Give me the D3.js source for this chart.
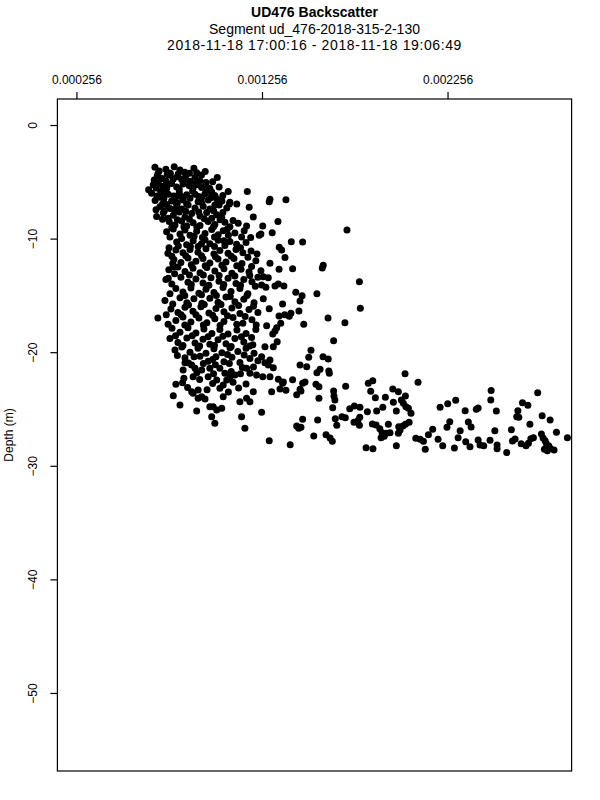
<!DOCTYPE html>
<html>
<head>
<meta charset="utf-8">
<script src="https://cdn.jsdelivr.net/npm/d3@7"></script>
<style>
  body { margin: 0; background: #fff; }
  svg text { font-family: "Liberation Sans", Arial, Helvetica, sans-serif; fill: #000; }
</style>
</head>
<body>
<div id="chart"></div>
<script>
//------------------------------------------ Data ------------------------------------------//
// each ping: [backscatter in units of 1e-4, depth (m)]
const BS_UNIT = 1e-4;

const titleLines = ['UD476 Backscatter', 'Segment ud_476-2018-315-2-130', '2018-11-18 17:00:16 - 2018-11-18 19:06:49'];
const xTicks = [0.000256, 0.001256, 0.002256];
const yTicks = [0, -10, -20, -30, -40, -50];
const yLabel = 'Depth (m)';

const shallowPings = [
  [6.79,-3.72],[7.02,-4.05],[7.38,-3.90],[7.83,-3.68],[8.14,-3.95],[8.89,-3.80],[9.04,-4.20],[9.50,-4.10],[7.62,-4.25],[8.40,-4.15],
  [6.91,-4.50],[7.60,-4.42],[7.78,-4.75],[7.99,-4.55],[8.23,-4.80],[8.95,-4.62],[9.22,-4.90],[10.15,-4.62],[7.17,-4.70],[8.45,-4.45],[8.68,-4.95],[9.54,-5.05],
  [6.70,-5.25],[6.97,-5.05],[7.20,-5.40],[7.69,-5.15],[7.96,-5.45],[8.31,-5.20],[8.64,-5.35],[9.31,-5.50],[9.54,-5.30],[9.75,-5.60],[7.42,-5.60],[9.00,-5.15],
  [6.61,-6.00],[7.10,-5.85],[7.51,-6.10],[8.10,-5.95],[8.50,-6.15],[8.82,-5.80],[9.49,-6.05],[9.85,-5.90],[10.02,-6.20],[10.74,-5.85],[11.77,-5.85],[6.45,-5.70],[7.80,-6.25],[9.15,-6.30],
  [7.27,-6.50],[7.69,-6.70],[7.87,-6.40],[8.31,-6.60],[8.68,-6.45],[9.12,-6.75],[9.31,-6.35],[9.66,-6.60],[10.12,-6.50],[10.83,-6.80],[6.80,-6.65],[7.06,-6.35],[8.00,-6.85],[10.40,-6.70],
  [7.06,-7.20],[7.42,-7.00],[7.60,-7.35],[7.96,-7.10],[8.23,-7.40],[8.58,-7.05],[8.95,-7.30],[9.39,-7.15],[9.75,-7.40],[10.02,-7.05],[10.66,-7.30],[10.80,-6.95],[11.87,-7.25],[6.85,-7.45],
  [6.88,-8.05],[7.24,-7.75],[7.78,-7.95],[8.10,-7.65],[8.41,-8.10],[8.77,-7.80],[9.22,-8.00],[9.58,-7.70],[10.12,-7.90],[10.39,-8.15],[12.09,-8.10],[7.50,-8.20],[9.85,-8.20],
  [7.56,-8.50],[7.87,-8.80],[8.23,-8.45],[8.50,-8.90],[8.85,-8.60],[9.22,-8.85],[9.66,-8.50],[10.02,-8.75],[10.56,-8.55],[10.83,-8.95],[11.28,-8.65],[11.73,-8.90],
  [7.42,-9.40],[7.78,-9.15],[8.14,-9.60],[8.41,-9.25],[8.68,-9.70],[9.04,-9.35],[9.49,-9.55],[9.85,-9.20],[10.20,-9.65],[10.47,-9.30],[11.10,-9.50],[11.46,-9.85],[12.41,-9.70],
  [7.96,-10.30],[8.23,-10.00],[8.50,-10.55],[8.85,-10.20],[9.12,-10.70],[9.49,-10.10],[9.75,-10.45],[10.20,-10.15],[10.56,-10.60],[10.83,-10.25],[11.19,-10.50],[11.70,-10.35],[7.55,-10.80]
];

const shallowInfill = [
  [6.95,-4.30],[7.45,-4.35],[8.05,-4.30],[8.65,-4.25],[9.30,-4.40],
  [6.75,-4.85],[7.40,-4.95],[8.45,-4.85],[9.10,-5.25],[9.90,-5.00],
  [6.85,-5.55],[7.45,-5.35],[8.10,-5.65],[8.85,-5.55],[9.60,-5.85],[10.25,-5.45],
  [6.90,-6.25],[7.30,-6.05],[8.20,-6.30],[8.95,-6.10],[9.80,-6.40],[10.45,-6.20],
  [7.20,-6.95],[7.90,-6.75],[8.50,-6.95],[9.30,-6.80],[10.25,-7.05],[11.20,-6.95],
  [7.30,-7.55],[7.85,-7.45],[8.45,-7.60],[9.15,-7.65],[9.95,-7.55],[10.45,-7.70],
  [7.20,-8.30],[8.00,-8.35],[8.65,-8.30],[9.45,-8.25],[10.30,-8.35],[11.00,-8.40],
  [7.70,-9.00],[8.35,-8.95],[9.05,-9.00],[9.95,-8.95],[10.70,-9.15],[11.60,-9.30],
  [7.60,-9.85],[8.90,-9.80],[9.35,-9.90],[10.00,-9.85],[10.75,-9.70],[11.95,-9.90],
  [8.05,-10.65],[8.70,-10.70],[9.30,-10.45],[10.00,-10.70],[10.50,-10.20],[11.40,-10.80]
];

const shallowEdge = [
  [13.85,-6.58],[12.99,-6.54],[12.95,-6.75],[13.42,-8.50],[12.60,-8.89],[12.50,-9.60],[13.11,-9.48],[17.14,-9.24],
  [14.14,-10.27],[14.75,-10.29],[13.49,-10.77],[13.62,-11.00]
];

const midPings = [
  [7.49,-11.30],[7.92,-11.00],[8.30,-11.25],[8.68,-10.95],[9.11,-11.20],[9.54,-10.90],[9.97,-11.35],[10.29,-11.05],[10.73,-11.30],[11.16,-10.95],[11.53,-11.25],[11.97,-11.10],[12.29,-11.35],
  [7.81,-11.85],[8.19,-12.10],[8.57,-11.70],[9.00,-12.00],[9.38,-11.75],[9.75,-12.15],[10.19,-11.80],[10.62,-12.05],[11.05,-11.75],[11.48,-12.20],[12.23,-11.95],
  [7.54,-12.75],[8.03,-12.50],[8.41,-12.90],[8.84,-12.60],[9.22,-13.00],[9.59,-12.55],[10.02,-12.85],[10.51,-12.65],[10.94,-13.05],[11.43,-12.70],[11.86,-12.95],
  [7.38,-13.60],[8.19,-13.40],[8.57,-13.85],[9.00,-13.55],[9.38,-13.90],[9.81,-13.45],[10.24,-13.75],[10.73,-13.50],[11.16,-13.95],[11.58,-13.60],[12.02,-13.80],[12.34,-13.40],
  [7.92,-14.40],[8.30,-14.70],[8.73,-14.35],[9.16,-14.80],[9.54,-14.45],[9.97,-14.75],[10.46,-14.30],[10.89,-14.65],[11.37,-14.40],[11.80,-14.85],
  [7.33,-15.45],[8.14,-15.20],[8.51,-15.65],[8.89,-15.30],[9.32,-15.70],[9.75,-15.25],[10.19,-15.60],[10.62,-15.15],[11.10,-15.55],[11.58,-15.35],[12.13,-15.65],
  [7.65,-16.20],[8.03,-16.50],[8.41,-16.05],[8.84,-16.40],[9.27,-16.00],[9.70,-16.55],[10.08,-16.15],[10.51,-16.45],[10.94,-16.10],[11.37,-16.60],[11.86,-16.25],[12.34,-16.50],
  [6.95,-17.00],[7.92,-17.20],[8.30,-16.90],[8.73,-17.35],[9.16,-17.00],[9.59,-17.40],[10.02,-17.05],[10.51,-17.30],[11.00,-16.95],[11.53,-17.45],[12.02,-17.15],
  [7.71,-17.90],[8.14,-18.25],[8.57,-17.85],[9.00,-18.30],[9.43,-17.95],[9.86,-18.35],[10.29,-18.00],[10.73,-18.40],[11.21,-18.05],[11.70,-18.35],[12.23,-18.00],
  [7.60,-18.80],[8.03,-19.15],[8.51,-18.75],[8.95,-19.20],[9.38,-18.85],[9.75,-19.30],[10.19,-18.90],[10.62,-19.25],[11.10,-18.80],[11.58,-19.10],[12.07,-19.35],
  [7.78,-12.47],[7.51,-13.50]
];

const midInfill = [
  [7.70,-11.55],[8.45,-11.50],[9.30,-11.50],[10.05,-11.60],[10.90,-11.55],[11.80,-11.65],
  [7.75,-12.20],[8.75,-12.30],[9.50,-12.40],[10.40,-12.35],[11.20,-12.40],[12.00,-12.45],
  [7.85,-13.10],[8.65,-13.20],[9.40,-13.20],[10.25,-13.25],[11.10,-13.30],[11.90,-13.25],
  [7.70,-14.00],[8.75,-14.05],[9.70,-14.10],[10.50,-14.05],[11.40,-14.10],[12.20,-14.20],
  [7.60,-14.85],[8.40,-15.00],[9.30,-14.95],[10.10,-15.00],[10.85,-15.10],[11.75,-15.00],
  [7.75,-15.75],[8.60,-15.85],[9.45,-15.80],[10.35,-15.80],[11.30,-15.90],[12.10,-15.95],
  [7.40,-16.70],[8.20,-16.70],[9.00,-16.70],[9.90,-16.75],[10.70,-16.80],[11.65,-16.85],
  [7.50,-17.55],[8.40,-17.60],[9.40,-17.60],[10.30,-17.65],[11.20,-17.55],[12.25,-17.60],
  [7.90,-18.55],[8.80,-18.55],[9.65,-18.65],[10.45,-18.60],[11.45,-18.65],[12.00,-18.70],
  [8.30,-19.40],[9.20,-19.45],[10.00,-19.40],[10.90,-19.50],[11.90,-19.45]
];

const midEdge = [
  [13.80,-11.67],[14.21,-12.65],[15.86,-12.35],[15.81,-12.59],[17.81,-13.79],[13.74,-14.17],[14.38,-14.73],[14.72,-15.03],[14.61,-15.49],[15.52,-14.85],
  [13.67,-15.76],[17.86,-16.14],[13.78,-16.70],[14.03,-16.84],[14.12,-16.58],[14.55,-16.37],[16.12,-16.99],[17.03,-17.40],[14.81,-17.54],[16.42,-18.99],
  [12.99,-12.17],[13.48,-12.70],[12.50,-12.83],[12.63,-13.35],[12.90,-13.44],[12.54,-14.08],[12.77,-14.29],[13.26,-14.17],[13.44,-14.00],[12.63,-15.29],
  [12.95,-16.17],[13.48,-16.81],[12.81,-17.67],[13.35,-17.84],[13.57,-17.45],[13.14,-18.40],[13.26,-18.13],[12.72,-19.52],[13.17,-19.52],[13.38,-19.08]
];

const deepPings = [
  [7.87,-19.80],[8.24,-19.55],[8.68,-20.00],[9.11,-19.65],[9.54,-20.10],[9.97,-19.70],[10.40,-20.05],[10.83,-19.60],[11.26,-19.95],[11.70,-19.65],[12.13,-20.10],
  [8.41,-20.50],[9.22,-20.35],[9.66,-20.80],[10.08,-20.40],[10.51,-20.85],[10.94,-20.45],[11.37,-20.90],[11.91,-20.55],[12.34,-20.75],
  [8.31,-21.57],[8.77,-21.13],[8.95,-21.42],[9.31,-21.57],[9.75,-21.42],[8.85,-22.16],[7.92,-22.83],[8.28,-22.69],[7.78,-23.83],[8.14,-24.65],
  [8.85,-23.62],[9.12,-24.06],[9.31,-23.92],[9.49,-24.12],[9.75,-24.80],[9.93,-24.80],[10.39,-24.94],[9.85,-25.68],[10.02,-26.26],[9.04,-25.18],
  [10.47,-23.92],[11.46,-25.68],[11.64,-26.70],[11.73,-24.06],[12.09,-23.48],[11.91,-24.36],[10.29,-23.18],[10.47,-22.89],[10.83,-22.16],[11.10,-22.01],
  [11.73,-21.42],[11.91,-21.86],[12.27,-22.01],[10.12,-22.45],[10.66,-22.45],[9.66,-22.16],[10.29,-21.42],[10.56,-21.86],[8.77,-23.48],[9.12,-23.33],
  [11.37,-24.36],[10.12,-25.09],[8.41,-20.92]
];

const deepInfill = [
  [8.00,-20.30],[8.90,-20.40],[9.90,-20.65],[10.70,-20.20],[11.60,-20.25],
  [8.60,-20.95],[9.40,-21.00],[10.05,-21.10],[10.80,-21.00],[11.50,-21.35],[12.10,-21.30],
  [9.05,-21.80],[9.95,-21.90],[10.90,-21.70],[11.40,-21.90],
  [8.35,-22.30],[9.20,-22.40],[9.90,-22.75],[11.00,-22.65],[11.70,-22.80],
  [8.55,-23.10],[9.60,-23.30],[10.75,-23.50],[11.30,-23.15]
];

const deepEdge = [
  [15.20,-19.83],[15.08,-20.45],[15.85,-20.40],[16.13,-20.60],[14.61,-21.13],[14.97,-21.28],[15.69,-21.50],[15.52,-21.80],[16.16,-21.65],[16.19,-21.86],
  [14.21,-22.42],[13.71,-22.62],[14.88,-22.62],[14.75,-22.74],[15.47,-22.82],[15.63,-23.04],[13.85,-23.35],[14.61,-23.27],[14.66,-23.42],[14.43,-23.74],
  [16.42,-23.42],[16.44,-23.86],[16.49,-24.21],[15.63,-24.06],[16.37,-24.89],[14.75,-25.91],[15.56,-25.97],[16.51,-25.85],[16.59,-26.43],[16.87,-25.68],
  [17.05,-25.77],[14.43,-26.50],[14.54,-26.70],[14.66,-26.61],[15.35,-27.38],[16.01,-27.26],[16.23,-27.55],[16.35,-27.84],[14.08,-28.14],[17.07,-23.00],
  [12.54,-20.40],[12.72,-20.92],[12.99,-20.69],[12.90,-21.13],[13.17,-21.36],[12.60,-22.16],[12.99,-22.16],[13.44,-22.39],[13.67,-22.74],[13.08,-23.48],
  [13.53,-23.24],[12.54,-25.29],[12.95,-27.79]
];

const shelfPings = [
  [20.27,-21.89],[20.97,-22.65],[18.29,-22.74],[18.53,-22.51],[18.42,-23.44],[19.61,-23.24],[19.91,-23.48],[20.29,-23.86],[20.07,-24.21],[20.18,-24.50],
  [20.32,-24.80],[20.45,-24.94],[18.67,-24.01],[19.21,-23.97],[19.64,-24.41],[17.29,-24.97],[17.54,-24.74],[17.84,-24.85],[19.07,-24.85],[19.80,-25.18],
  [20.59,-25.38],[18.24,-25.24],[18.74,-25.18],[17.83,-25.73],[17.72,-26.03],[17.52,-26.17],[17.81,-26.43],[18.51,-26.32],[18.71,-26.41],[18.91,-26.73],
  [19.03,-27.09],[19.15,-27.40],[18.98,-27.53],[19.25,-27.14],[19.46,-27.09],[19.37,-26.35],[19.93,-26.56],[20.15,-26.50],[20.29,-26.35],[20.49,-26.17],
  [18.17,-28.41],[18.54,-28.50],[19.80,-28.23],[19.91,-27.14],[20.00,-26.85]
];

const farPings = [
  [24.91,-23.38],[24.89,-24.21],[22.16,-24.85],[22.57,-24.53],[23.00,-24.23],[23.51,-25.15],[24.11,-25.03],[24.21,-24.91],[25.19,-25.18],[27.42,-23.57],
  [26.60,-24.45],[26.89,-24.67],[26.35,-25.15],[26.29,-25.68],[26.40,-25.73],[27.66,-25.59],[28.09,-25.97],
  [20.85,-27.58],[21.08,-27.67],[21.26,-27.84],[21.36,-28.54],[21.76,-26.79],[21.53,-27.26],[22.05,-27.67],[22.30,-28.23],[22.53,-26.61],
  [22.68,-26.12],[23.24,-26.91],[23.13,-27.53],[22.93,-28.43],[23.54,-27.88],[23.68,-26.14],[23.83,-26.58],[23.77,-28.32],[24.21,-27.73],[24.31,-28.17],
  [24.51,-28.23],[24.85,-27.76],[25.11,-26.91],[25.23,-28.17],[25.23,-28.50],[25.75,-28.84],[26.00,-26.82],[26.20,-27.64],[26.06,-27.82],[26.53,-28.05],
  [26.79,-28.23],[26.92,-28.02],[27.05,-27.61],[27.19,-27.53],[27.00,-26.35],[27.62,-27.20],[27.71,-27.55],[27.82,-27.79],[27.89,-28.05],[28.02,-28.26],
  [28.09,-28.46],[27.78,-28.55],[28.30,-28.61],[27.94,-28.67],[28.43,-27.05],[29.02,-27.53]
];

//------------------------------------------ Canvas ------------------------------------------//
let w = 600,
  h = 800;
let plot = {left: 57.4, right: 571.6, top: 99, bottom: 771};

let pings = [].concat(shallowPings, shallowInfill, shallowEdge, midPings, midInfill, midEdge,
  deepPings, deepInfill, deepEdge, shelfPings, farPings)
  .map(d => ({bs: d[0] * BS_UNIT, depth: d[1]}));

// R style limits: data range padded by 4% on each side
let xRange = [0.000256, 0.002822];
let xPad = (xRange[1] - xRange[0]) * 0.04;
let xScale = d3.scaleLinear().domain([xRange[0] - xPad, xRange[1] + xPad]).range([plot.left, plot.right]);
let yScale = d3.scaleLinear().domain([-56.87, 2.29]).range([plot.bottom, plot.top]);

let svg = d3.select('#chart').append('svg')
  .attr('width', w)
  .attr('height', h);

svg.append('clipPath').attr('id', 'plot-clip')
  .append('rect')
  .attr('x', plot.left).attr('y', plot.top)
  .attr('width', plot.right - plot.left).attr('height', plot.bottom - plot.top);

// points
svg.append('g')
  .attr('clip-path', 'url(#plot-clip)')
  .selectAll('circle')
  .data(pings)
  .enter()
  .append('circle')
  .attr('cx', d => xScale(d.bs))
  .attr('cy', d => yScale(d.depth))
  .attr('r', 3.5)
  .style('fill', '#000');

// box
svg.append('rect')
  .attr('x', plot.left).attr('y', plot.top)
  .attr('width', plot.right - plot.left).attr('height', plot.bottom - plot.top)
  .style('fill', 'none').style('stroke', '#000').style('stroke-width', 1.2);

// top axis
let xAxis = d3.axisTop(xScale).tickValues(xTicks).tickSize(7).tickPadding(8)
  .tickFormat(d => d.toFixed(6));
let gx = svg.append('g')
  .attr('transform', 'translate(0,' + plot.top + ')')
  .call(xAxis);
gx.select('.domain').remove();
gx.selectAll('line').style('stroke', '#000').style('stroke-width', 1.2);
gx.selectAll('text').style('font-size', '12px').style('font-family', '"Liberation Sans", Arial, sans-serif');

// left axis, rotated labels
let yAxis = d3.axisLeft(yScale).tickValues(yTicks).tickSize(7)
  .tickFormat(d => (d < 0 ? '\u2212' + Math.abs(d) : String(d)));
let gy = svg.append('g')
  .attr('transform', 'translate(' + plot.left + ',0)')
  .call(yAxis);
gy.select('.domain').remove();
gy.selectAll('line').style('stroke', '#000').style('stroke-width', 1.2);
gy.selectAll('text')
  .attr('x', null).attr('y', null).attr('dy', null)
  .attr('text-anchor', 'middle')
  .attr('transform', 'translate(-20.5,0) rotate(-90)')
  .style('font-size', '12px').style('font-family', '"Liberation Sans", Arial, sans-serif');

svg.append('text')
  .text(yLabel)
  .attr('text-anchor', 'middle')
  .attr('transform', 'translate(12.5,' + ((plot.top + plot.bottom) / 2) + ') rotate(-90)')
  .style('font-size', '12px');

// titles
let cx = (plot.left + plot.right) / 2;
svg.selectAll('.chart-title')
  .data(titleLines)
  .enter()
  .append('text')
  .attr('class', 'chart-title')
  .text(d => d)
  .attr('x', cx)
  .attr('y', (d, i) => [17, 33.5, 49.5][i])
  .attr('text-anchor', 'middle')
  .style('font-size', '14px')
  .style('letter-spacing', (d, i) => (i === 2 ? '0.6px' : '0px'))
  .style('font-weight', (d, i) => (i === 0 ? 'bold' : 'normal'));
</script>
</body>
</html>
